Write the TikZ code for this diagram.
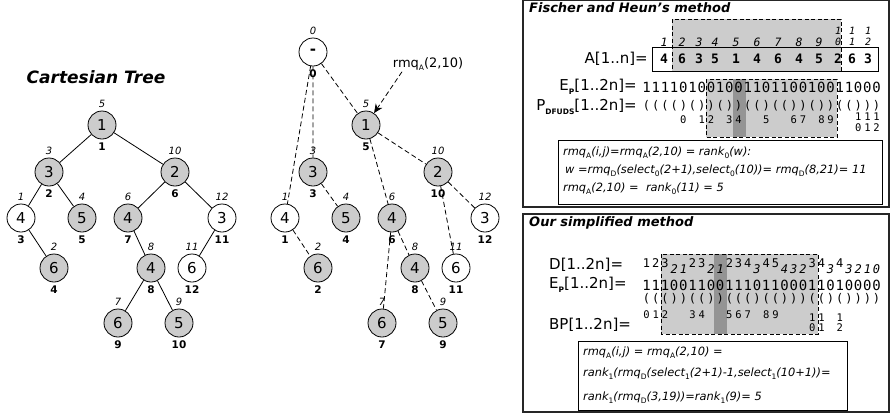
\documentclass[tikz,border=0pt]{standalone}
\usepackage{fontspec}
\setmainfont{DejaVu Sans}
\newfontfamily\monof{DejaVu Sans Mono}
\usetikzlibrary{arrows.meta}
\newcommand\fs[1]{\fontsize{#1}{#1}\selectfont}
\newcommand\sbx[1]{\raisebox{-0.45ex}{\fs{7.5}\upshape #1}}
\newcommand\TN[7]{%
  \node[tn,fill=#4] (#1) at (#2,#3) {#5};
  \node[ilab] (#1-i) at (#2,#3-21) {#6};
  \node[blab] (#1-b) at (#2,#3+22) {#7};}
\begin{document}
\begin{tikzpicture}[x=1pt,y=-1pt,
  tn/.style={circle,draw=black,line width=0.8pt,minimum size=28pt,inner sep=0pt,font=\fs{15}},
  ilab/.style={font=\fs{10}\itshape,inner sep=0pt},
  blab/.style={font=\fs{10.5}\bfseries,inner sep=0pt},
  sedge/.style={line width=0.8pt},
  dedge/.style={line width=0.8pt,dash pattern=on 5pt off 3pt},
  panel/.style={draw=black!85,line width=1.3pt},
  ptitle/.style={font=\fs{13}\bfseries\itshape,anchor=west,inner sep=0pt},
  lab/.style={font=\fs{15},inner sep=0pt},
  bitT/.style={font=\monof\fs{14},inner sep=0pt},
  parT/.style={font=\monof\fs{12},inner sep=0pt},
  idx/.style={font=\monof\fs{10.5},inner sep=0pt},
  dup/.style={font=\monof\fs{12},inner sep=0pt},
  ddn/.style={font=\monof\itshape\fs{12},inner sep=0pt},
  aval/.style={font=\monof\bfseries\fs{13},inner sep=0pt},
  aidx/.style={font=\monof\itshape\fs{11.5},inner sep=0pt},
  aidxs/.style={font=\monof\itshape\fs{10},inner sep=0pt},
  fml/.style={font=\fs{11.4}\itshape,anchor=west,inner sep=0pt},
  dsh/.style={line width=0.8pt,dash pattern=on 4pt off 2.5pt},
  gfill/.style={fill=black!20},
  dfill/.style={fill=black!42}]
\useasboundingbox (0,0) rectangle (891,413);

% ---------- Cartesian tree ----------
\node[font=\fs{17}\bfseries\itshape] (ctitle) at (96,77) {Cartesian Tree};
\TN{L1}{102}{125}{black!20}{1}{5}{1}
\TN{L3}{49}{172}{black!20}{3}{3}{2}
\TN{L2}{175}{172}{black!20}{2}{10}{6}
\TN{L4a}{21}{218}{white}{4}{1}{3}
\TN{L5}{82}{218}{black!20}{5}{4}{5}
\TN{L4b}{128}{218}{black!20}{4}{6}{7}
\TN{L3w}{222}{218}{white}{3}{12}{11}
\TN{L6a}{54}{268}{black!20}{6}{2}{4}
\TN{L4c}{151}{268}{black!20}{4}{8}{8}
\TN{L6w}{192}{268}{white}{6}{11}{12}
\TN{L6b}{118}{323}{black!20}{6}{7}{9}
\TN{L5b}{179}{323}{black!20}{5}{9}{10}
\draw[sedge] (L1)--(L3) (L1)--(L2) (L3)--(L4a) (L3)--(L5) (L4a)--(L6a)
  (L2)--(L4b) (L2)--(L3w) (L4b)--(L4c) (L3w)--(L6w) (L4c)--(L6b) (L4c)--(L5b);

% ---------- DFUDS tree ----------
\TN{M0}{313}{52}{white}{\bfseries -}{0}{0}
\TN{M1}{366}{125}{black!20}{1}{5}{5}
\TN{M3}{313}{172}{black!20}{3}{3}{3}
\TN{M2}{438}{172}{black!20}{2}{10}{10}
\TN{M4a}{285}{218}{white}{4}{1}{1}
\TN{M5}{346}{218}{black!20}{5}{4}{4}
\TN{M4b}{392}{218}{black!20}{4}{6}{6}
\TN{M3w}{485}{218}{white}{3}{12}{12}
\TN{M6a}{318}{268}{black!20}{6}{2}{2}
\TN{M4c}{415}{268}{black!20}{4}{8}{8}
\TN{M6w}{456}{268}{white}{6}{11}{11}
\TN{M6b}{382}{323}{black!20}{6}{7}{7}
\TN{M5b}{443}{323}{black!20}{5}{9}{9}
\draw[dedge] (M0)--(M1) (M0)--(M3) (M0)--(M4a) (M3)--(M5) (M4a)--(M6a)
  (M1)--(M2) (M1)--(M4b) (M2)--(M3w) (M2)--(M6w) (M4b)--(M6b) (M4b)--(M4c) (M4c)--(M5b);
\node[font=\fs{13},inner sep=1pt] (rmqlab) at (428,64) {rmq\sbx{A}(2,10)};
\draw[dedge,-{Stealth[length=9pt,width=8pt]}] ([xshift=-26pt]rmqlab.south) -- (M1);

% ---------- Fischer and Heun ----------
\draw[panel] (523,0.8) rectangle (889,207);
\node[ptitle] (t1) at (529,8) {Fischer and Heun's method};
\fill[gfill] (672,19) rectangle (841,71);
\fill[gfill] (706,79) rectangle (837,137);
\fill[dfill] (733,79) rectangle (746,137);
\node[lab,anchor=east] (Alab) at (648,59) {A[1..n]=};
\draw[line width=0.8pt] (652,47) rectangle (878,71);
\foreach \x/\v/\n in {664/4/1,682/6/2,699/3/3,715/5/4,736/1/5,757/4/6,778/6/7,799/4/8,819/5/9,838/2/10,852/6/11,868/3/12}{
  \node[aval] (a\n) at (\x,59) {\v};
  \ifnum\n<10 \node[aidx] (ai\n) at (\x,42) {\n};
  \else \node[aidxs] (ai\n) at (\x,31) {1};
        \pgfmathtruncatemacro\lo{\n-10}
        \node[aidxs] (aj\n) at (\x,42) {\lo};
  \fi}
\draw[dsh] (672,19) rectangle (841,71);
\node[lab,anchor=east] (Elab) at (637,87) {E\sbx{\bfseries P}[1..2n]=};
\node[lab,anchor=east] (Plab) at (637,107) {P\sbx{\bfseries DFUDS}[1..2n]=};
\foreach \bt [count=\i] in {1,1,1,1,0,1,0,0,1,0,0,1,1,0,1,1,0,0,1,0,0,1,1,0,0,0}{
  \node[bitT] (tb\i) at ({642+(\i-0.5)*9.2},87) {\bt};
  \node[parT] (tp\i) at ({642+(\i-0.5)*9.2},106) {\ifnum\bt=1 (\else )\fi};}
\foreach \p/\t in {5/0,7/1,8/2,10/3,11/4,14/5,17/6,18/7,20/8,21/9}{
  \node[idx] (ti\p) at ({642+(\p-0.5)*9.2},120) {\t};}
\foreach \p/\t in {24/0,25/1,26/2}{
  \node[idx] (ti\p) at ({642+(\p-0.5)*9.2},117) {1};
  \node[idx] (tj\p) at ({642+(\p-0.5)*9.2},128) {\t};}
\draw[dsh] (706,79) rectangle (837,137);
\draw[line width=0.8pt] (558,140) rectangle (882,204);
\node[fml] (f1) at (563,153) {rmq\sbx{A}(i,j)=rmq\sbx{A}(2,10) = rank\sbx{0}(w):};
\node[fml] (f2) at (565,171) {w =rmq\sbx{D}(select\sbx{0}(2+1),select\sbx{0}(10))= rmq\sbx{D}(8,21)= 11};
\node[fml] (f3) at (563,189) {rmq\sbx{A}(2,10) = \ rank\sbx{0}(11) = 5};

% ---------- Simplified ----------
\draw[panel] (523,214) rectangle (889,412);
\node[ptitle] (t2) at (529,223) {Our simplified method};
\fill[gfill] (661,254) rectangle (818,334);
\fill[dfill] (714,254) rectangle (727,334);
\node[lab,anchor=west] (Dlab) at (549,265) {D[1..2n]=};
\node[lab,anchor=west] (E2lab) at (549,285) {E\sbx{\bfseries P}[1..2n]=};
\node[lab,anchor=west] (BPlab) at (549,325) {BP[1..2n]=};
\foreach \d/\u [count=\i] in {1/1,2/1,3/1,2/0,1/0,2/1,3/1,2/0,1/0,2/1,3/1,4/1,3/0,4/1,5/1,4/0,3/0,2/0,3/1,4/1,3/0,4/1,3/0,2/0,1/0,0/0}{
  \ifnum\u=1 \node[dup] (dd\i) at ({642+(\i-0.5)*9.2},263) {\d};
  \else \node[ddn] (dd\i) at ({642+(\i-0.5)*9.2},269) {\d};\fi
  \node[bitT] (bb\i) at ({642+(\i-0.5)*9.2},285) {\u};
  \node[parT] (bp\i) at ({642+(\i-0.5)*9.2},299) {\ifnum\u=1 (\else )\fi};}
\foreach \p/\t in {1/0,2/1,3/2,6/3,7/4,10/5,11/6,12/7,14/8,15/9}{
  \node[idx] (bi\p) at ({642+(\p-0.5)*9.2},315) {\t};}
\foreach \p/\t in {19/0,20/1,22/2}{
  \node[idx] (bi\p) at ({642+(\p-0.5)*9.2},318) {1};
  \node[idx] (bj\p) at ({642+(\p-0.5)*9.2},328) {\t};}
\draw[dsh] (661,254) rectangle (818,334);
\draw[line width=0.8pt] (578,341) rectangle (847,410);
\node[fml] (g1) at (583,353) {rmq\sbx{A}(i,j) = rmq\sbx{A}(2,10) =};
\node[fml] (g2) at (583,374) {rank\sbx{1}(rmq\sbx{D}(select\sbx{1}(2+1)-1,select\sbx{1}(10+1))=};
\node[fml] (g3) at (583,398) {rank\sbx{1}(rmq\sbx{D}(3,19))=rank\sbx{1}(9)= 5};
\end{tikzpicture}
\end{document}
